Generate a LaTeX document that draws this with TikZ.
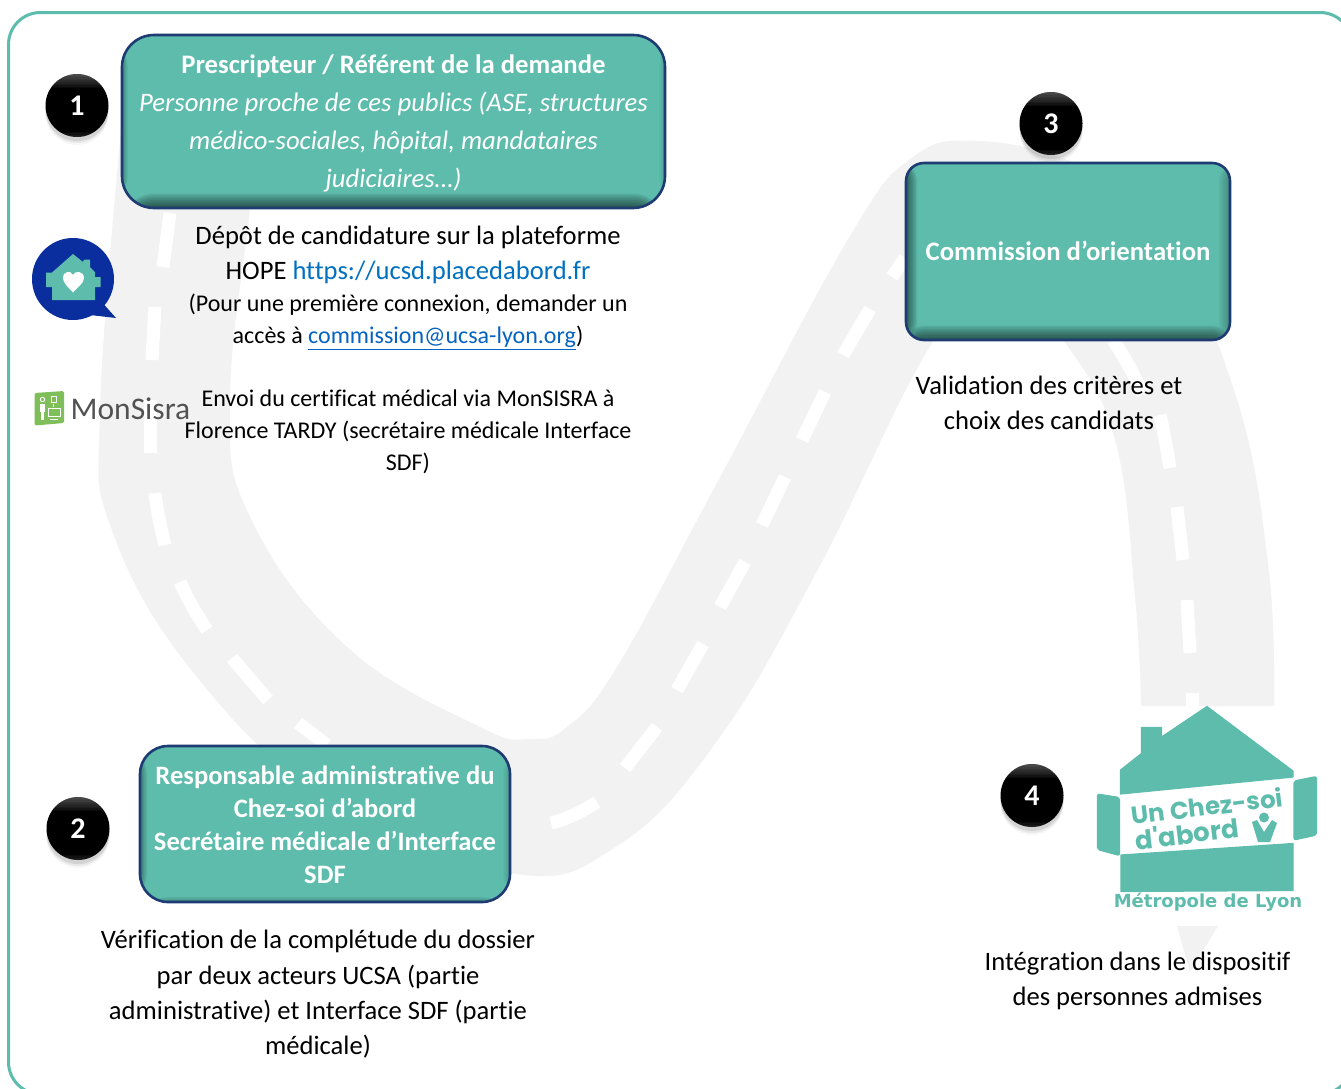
\documentclass[tikz,border=0pt]{standalone}
\usepackage{fontspec}
\setmainfont{Carlito}[Ligatures=NoCommon]
\newfontfamily\logofont{Poppins}
\newfontfamily\metrofont{DejaVu Sans}
\usetikzlibrary{calc}
\definecolor{tealc}{HTML}{5DBCAC}
\definecolor{navyb}{HTML}{1F3B73}
\definecolor{roadc}{HTML}{F2F2F2}
\definecolor{hopeblue}{HTML}{0B2E9E}
\definecolor{sisragreen}{HTML}{7FBF5A}
\definecolor{linka}{HTML}{0070C0}
\definecolor{linkb}{HTML}{0563C1}
\newcommand{\boxsz}[2]{\fontsize{#1}{#2}\selectfont}
\tikzset{
  x=1pt,y=-1pt,
  tealbox/.style n args={5}{draw=navyb,line width=2.6pt,fill=tealc,rounded corners=#1,
    minimum width=#2,minimum height=#3,inner sep=0pt,align=center,text=white,
    path picture={
      \foreach \t in {1,...,#4} {
        \fill[black,fill opacity=.07] (path picture bounding box.south west) rectangle ([xshift=1.4*\t pt]path picture bounding box.north west);
        \fill[black,fill opacity=.03] (path picture bounding box.south east) rectangle ([xshift=-1.4*\t pt]path picture bounding box.north east);
      }
      \foreach \t in {1,...,#5} {
        \fill[black,fill opacity=.075] (path picture bounding box.south west) rectangle ([yshift=1.6*\t pt]path picture bounding box.south east);
      }
    }},
  ballnode/.style={circle,minimum size=63pt,inner sep=0pt,fill=black,text=white,
    font=\boxsz{30}{32}\bfseries,
    preaction={fill=black,fill opacity=.03,draw=none,transform canvas={yshift=-8pt}},
    preaction={fill=black,fill opacity=.06,draw=none,transform canvas={yshift=-6pt}},
    preaction={fill=black,fill opacity=.09,draw=none,transform canvas={yshift=-4pt}},
    path picture={
      \foreach \t in {1,...,9} {
        \fill[white,fill opacity=.04] (path picture bounding box.north west) rectangle ([yshift=-1.6*\t pt]path picture bounding box.north east);
      }
      \foreach \t in {1,...,4} {
        \fill[white,fill opacity=.035] (path picture bounding box.south west) rectangle ([yshift=1.2*\t pt]path picture bounding box.south east);
      }
    }},
  bodytext/.style={inner sep=0pt,align=center,text=black},
  roadmark/.style={draw=white,line width=13pt,line cap=butt},
  roadsurface/.style={fill=roadc,draw=none},
  logoshape/.style={fill=tealc,draw=tealc,line width=1.2pt,line join=round},
}
\begin{document}
\begin{tikzpicture}
\path[use as bounding box] (0,0) rectangle (1341,1088);
\clip (0,0) rectangle (1341,1088);
\fill[white] (0,0) rectangle (1341,1088);

% road
\fill[roadsurface]
  plot[smooth,tension=.7] coordinates {(122,120) (100,410) (113,533) (197,677) (330,800) (510,873) (617,846) (717,741) (817,571) (930,346) (1000,270) (1065,342) (1115,440) (1135,597) (1141,706)}
  -- (1274,706) --
  plot[smooth,tension=.7] coordinates {(1274,706) (1268,563) (1233,387) (1150,205) (1067,160) (977,141) (913,157) (850,236) (717,483) (617,667) (567,727) (530,739) (480,727) (347,647) (250,517) (230,400) (250,208) (258,120)}
  -- cycle;
\fill[roadsurface] (1177,926) -- (1218,926) -- (1190,972) -- cycle;

% road marks
\draw[roadmark] (170,213) -- (163,267);
\draw[roadmark] (155,307) -- (152,360);
\draw[roadmark] (150,400) -- (150,453);
\draw[roadmark] (155,493) .. controls (157,512) and (161,528) .. (165,545);
\draw[roadmark] (180,582) .. controls (188,600) and (197,615) .. (207,630);
\draw[roadmark] (232,658) -- (268,700);
\draw[roadmark] (298,723) -- (327,745);
\draw[roadmark] (551,823) .. controls (568,819) and (583,811) .. (597,802);
\draw[roadmark] (625,768) -- (657,727);
\draw[roadmark] (677,690) -- (703,644);
\draw[roadmark] (720,607) -- (745,562);
\draw[roadmark] (762,525) -- (785,477);
\draw[roadmark] (802,440) -- (825,392);
\draw[roadmark] (843,355) -- (870,309);
\draw[roadmark] (892,277) -- (905,258);
\draw[roadmark] (1113,340) .. controls (1125,358) and (1135,376) .. (1143,395);
\draw[roadmark] (1160,415) .. controls (1164,432) and (1167,450) .. (1170,468);
\draw[roadmark] (1177,507) -- (1183,560);
\draw[roadmark] (1187,600) -- (1190,653);
\draw[roadmark] (1192,693) -- (1192,706);

% outer frame
\draw[tealc,line width=3pt,rounded corners=32pt] (8.5,12.5) rectangle (1352,1094);

% main boxes
\node[tealbox={32pt}{543pt}{173pt}{4}{9},font=\boxsz{26.7}{38}] (box1) at (393.5,121.5)
  {\rule{0pt}{23pt}\textbf{Prescripteur / Référent de la demande}\\
   \textit{Personne proche de ces publics (ASE, structures}\\
   \textit{médico-sociales, hôpital, mandataires}\\
   \textit{judiciaires…)}};
\node[tealbox={28pt}{370pt}{156pt}{5}{3},font=\boxsz{26.6}{33}\bfseries] (box2) at (325,824)
  {\rule{0pt}{21pt}Responsable administrative du\\Chez-soi d’abord\\Secrétaire médicale d’Interface\\SDF};
\node[tealbox={18pt}{324pt}{177pt}{8}{9},font=\boxsz{26.7}{33}\bfseries] (box3) at (1068,251.5)
  {\raisebox{1.5pt}{Commission d’orientation}};

% numbered balls
\node[ballnode] (n1) at (77,105.5) {1};
\node[ballnode] (n2) at (78,828.5) {2};
\node[ballnode] (n3) at (1051,123.5) {3};
\node[ballnode] (n4) at (1032,795.5) {4};

% body text
\node[bodytext,font=\boxsz{26.6}{35}] (depot) at (408,255)
  {Dépôt de candidature sur la plateforme\\HOPE \textcolor{linka}{https://ucsd.placedabord.fr}};
\node[bodytext,font=\boxsz{24}{31.5}] (acces) at (408,322)
  {(Pour une première connexion, demander un\\accès à \textcolor{linkb}{\underline{commission@ucsa-lyon.org}})};
\node[bodytext,font=\boxsz{24}{32}] (envoi) at (408,432)
  {Envoi du certificat médical via MonSISRA à\\Florence TARDY (secrétaire médicale Interface\\SDF)};
\node[bodytext,font=\boxsz{26.6}{35.3}] (verif) at (318,994.5)
  {Vérification de la complétude du dossier\\par deux acteurs UCSA (partie\\administrative) et Interface SDF (partie\\médicale)};
\node[bodytext,font=\boxsz{26.6}{35}] (valid) at (1049,402.5)
  {Validation des critères et\\choix des candidats};
\node[bodytext,font=\boxsz{26.6}{35}] (integ) at (1137.5,981)
  {Intégration dans le dispositif\\des personnes admises};

% HOPE icon
\fill[hopeblue] (73,279) circle (41);
\fill[hopeblue] (100,300) -- (116,318) -- (90,315) -- cycle;
\fill[tealc] (73,254) -- (83,262) -- (84,259.5) -- (90,259.5) -- (90,267) -- (95,272) -- (95,277) -- (100.5,277) -- (100.5,287) -- (95,287) -- (95,300) -- (52,300) -- (52,287) -- (46,287) -- (46,272.5) -- (52,272.5) -- cycle;
\fill[white] (73,292.5) .. controls (68,287) and (63,283) .. (63,278) .. controls (63,271) and (71,270) .. (73,275) .. controls (75,270) and (84,271) .. (84,278) .. controls (84,283) and (78,287) .. (73,292.5) -- cycle;

% MonSisra logo
\fill[sisragreen,rounded corners=1.5pt] (34.5,393) -- (64,391) -- (64,423) -- (34.5,425.5) -- cycle;
\draw[white,line width=.9pt] (42.5,399.5) circle (2.2);
\fill[white] (40,403.5) rectangle (45,412);
\fill[white] (41,412) rectangle (44,420);
\draw[white,line width=.8pt] (51,396) rectangle (56,402);
\draw[white,line width=.8pt] (53.5,403.5) -- (53.5,407);
\draw[white,line width=1pt] (48,408.5) rectangle (60,416);
\draw[white,line width=1pt] (50,419) -- (58,419);
\node[inner sep=0pt,anchor=base west,text=black!68,font=\boxsz{31.5}{34}] (sisra) at (70.5,419) {MonSisra};

% Chez-soi d'abord logo
\fill[logoshape] (1207,706.5) -- (1293,771) -- (1293,777) -- (1120.5,794) -- (1120.5,770) -- (1141.5,753.5) -- (1141.5,727.5) -- (1161.5,727.5) -- (1161.5,737) -- cycle;
\fill[logoshape] (1121,855) -- (1293,843.5) -- (1293,890.5) -- (1121,891.5) -- cycle;
\fill[logoshape,rounded corners=2pt] (1097.5,794) -- (1119.5,797.5) -- (1119.5,855.5) -- (1097.5,849.5) -- cycle;
\fill[logoshape,rounded corners=2pt] (1294,781) -- (1316.5,776.5) -- (1316.5,835) -- (1294,840) -- cycle;
\node[inner sep=0pt,rotate=7,text=tealc,font=\logofont\boxsz{24.5}{26}\bfseries] (logo1) at (1207,806) {Un Chez-soi};
\node[inner sep=0pt,rotate=7,text=tealc,font=\logofont\boxsz{26}{27}\bfseries] (logo2) at (1187,833.5) {d'abord};
\fill[tealc] (1264,817.5) circle (5);
\fill[tealc] (1252,822) -- (1257,820) -- (1264,832) -- (1272,820) -- (1277,823) -- (1270,842) -- (1258,842) -- cycle;
\node[inner sep=0pt,text=tealc,font=\metrofont\boxsz{18}{20}\bfseries] (logo3) at (1208,902) {Métropole de Lyon};
\end{tikzpicture}
\end{document}
